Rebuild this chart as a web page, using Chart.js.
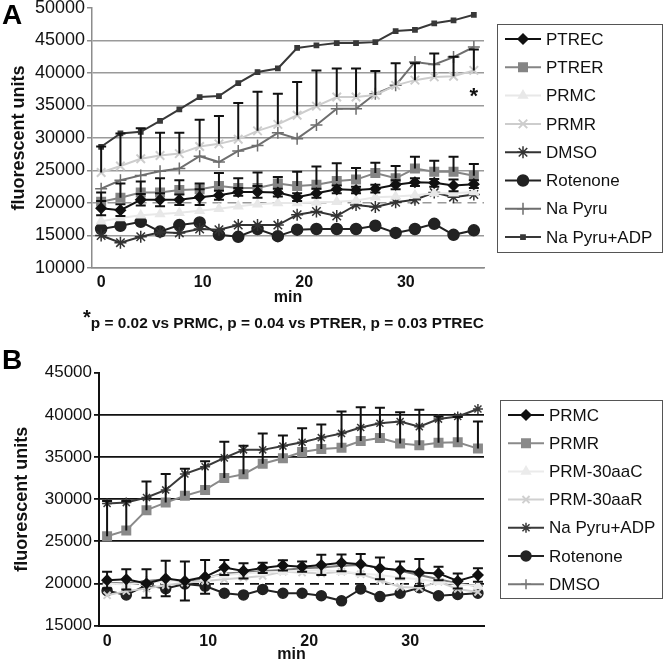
<!DOCTYPE html>
<html>
<head>
<meta charset="utf-8">
<script src="https://cdn.jsdelivr.net/npm/chart.js@4.4.0/dist/chart.umd.min.js"></script>
<style>
  body { margin: 0; background: #fff; width: 666px; height: 663px; position: relative; overflow: hidden; font-family: "Liberation Sans", Arial, sans-serif; }
  .wrap { position: absolute; left: 0; width: 666px; }
  #wrapA { top: 0; height: 312px; }
  #wrapB { top: 340px; height: 323px; }
  .letter { position: absolute; left: 2px; font: bold 28px "Liberation Sans", Arial, sans-serif; line-height: 1; color: #000; }
  #note { position: absolute; top: 311px; left: 83px; font: bold 15.4px "Liberation Sans", Arial, sans-serif; line-height: 1; color: #111; white-space: nowrap; }
  #note .st { font-size: 20px; position: relative; top: -4px; }
</style>
</head>
<body>
<div class="wrap" id="wrapA"><canvas id="chartA"></canvas></div>
<div class="wrap" id="wrapB"><canvas id="chartB"></canvas></div>
<div class="letter" style="top:1px">A</div>
<div class="letter" style="top:346px">B</div>
<div id="note"><span class="st">*</span>p = 0.02 vs PRMC, p = 0.04 vs PTRER, p = 0.03 PTREC</div>
<script>
// sampling times (min), same for both panels
const timesA = [0, 1.9, 3.9, 5.8, 7.7, 9.7, 11.6, 13.5, 15.4, 17.4, 19.3, 21.2, 23.2, 25.1, 27.0, 29.0, 30.9, 32.8, 34.7, 36.7];
const timesB = [0, 1.9, 3.9, 5.8, 7.7, 9.7, 11.6, 13.5, 15.4, 17.4, 19.3, 21.2, 23.2, 25.1, 27.0, 29.0, 30.9, 32.8, 34.7, 36.7];

// Panel A
const ptrecA = [19200, 18900, 20500, 20500, 20500, 20900, 21200, 21700, 21700, 21600, 20900, 21500, 22100, 22000, 22200, 22800, 23200, 23100, 22700, 22900];
const ptrecErrA = [1100, 900, 900, 1000, 800, 1200, 700, 600, 900, 600, 600, 700, 600, 500, 600, 700, 600, 600, 900, 600];
const ptrerA = [20200, 20800, 21600, 21600, 22000, 22100, 22600, 22300, 22300, 23000, 22600, 22800, 23400, 23600, 24600, 23800, 25300, 24800, 24800, 24200];
const ptrerErrA = [1400, 2200, 1700, 2200, 1500, 900, 2000, 1500, 2400, 1000, 2200, 2800, 2700, 1800, 1600, 1900, 1800, 1700, 2300, 1800];
const prmcA = [17200, 17700, 18100, 18300, 18500, 18800, 19100, 19500, 19800, 20000, 20000, 20100, 20200, 20400, 20900, 21000, 21200, 21500, 21500, 21700];
const prmrA = [24700, 25700, 26800, 27300, 27600, 28700, 29100, 29800, 31100, 32100, 33500, 34900, 36300, 36300, 36600, 38100, 38900, 39400, 39500, 40400];
const prmrErrA = [4000, 5000, 4700, 3500, 3200, 4100, 4300, 5600, 6000, 4700, 5100, 5500, 4400, 4400, 3700, 3400, 2600, 3600, 3000, 3200];
const dmsoA = [15000, 13900, 14800, 15500, 15400, 16000, 15900, 16600, 16600, 16600, 18200, 18700, 18000, 19700, 19400, 20100, 20500, 21600, 20900, 21300];
const rotenoneA = [16000, 16500, 17100, 15600, 16600, 17000, 15100, 14800, 16000, 14900, 15900, 16000, 16000, 16000, 16500, 15400, 16000, 16800, 15100, 15800];
const naPyruA = [22200, 23500, 24250, 24900, 25300, 27200, 26300, 28000, 28850, 30800, 29900, 32000, 34500, 34500, 36800, 38100, 41700, 41300, 42450, 44000];
const naPyruAdpA = [28650, 30700, 30950, 32650, 34400, 36300, 36450, 38450, 40150, 40700, 43850, 44250, 44600, 44600, 44750, 46450, 46650, 47650, 48100, 48950];

// Panel B
const prmcB = [20400, 20500, 20000, 20600, 20300, 20800, 21900, 21500, 21850, 22150, 22000, 22200, 22450, 22300, 21800, 21600, 21300, 21200, 20300, 21000];
const prmcErrB = [1000, 1200, 1700, 2100, 2300, 2000, 900, 900, 600, 600, 600, 1200, 1000, 1200, 1300, 1000, 1600, 800, 900, 800];
const prmrB = [25600, 26300, 28700, 29600, 30400, 31100, 32500, 32950, 34200, 34850, 35600, 35950, 36100, 36900, 37250, 36600, 36400, 36700, 36750, 36000];
const prmrErrB = [4200, 3500, 3400, 3400, 3200, 3400, 4300, 3400, 3600, 2700, 2800, 2900, 4300, 4000, 3600, 3700, 4200, 3100, 3000, 3200];
const prm30aaCB = [20000, 19900, 20100, 20300, 20500, 20700, 21000, 21200, 21300, 21400, 21500, 21600, 21400, 21200, 21000, 20700, 20500, 20200, 19900, 19700];
const prm30aaRB = [18600, 19100, 19400, 19800, 20100, 20300, 20500, 20700, 20900, 21400, 21300, 21200, 21400, 21100, 20400, 19600, 19500, 20200, 19350, 19000];
const naPyruAdpB = [29500, 29600, 30200, 31100, 33000, 33850, 34900, 35850, 35850, 36300, 36750, 37300, 37800, 38500, 39000, 39200, 38600, 39500, 39800, 40700];
const rotenoneB = [19150, 18650, 19800, 19400, 19950, 19700, 18850, 18650, 19300, 18850, 18850, 18550, 17950, 19350, 18450, 18850, 19500, 18550, 18700, 18850];
const dmsoB = [20100, 20000, 20300, 20500, 20300, 20600, 21200, 21300, 21500, 21600, 21800, 21900, 22100, 22200, 21900, 21500, 21000, 20500, 20000, 19700];

const FONT = '"Liberation Sans", Arial, sans-serif';

function pts(times, vals) {
    return vals.map((v, i) => ({ x: times[i], y: v }));
}

function series(label, times, vals, color, marker, size, extra) {
    return Object.assign({
        label: label,
        data: pts(times, vals),
        borderColor: color,
        backgroundColor: color,
        borderWidth: 2,
        pointStyle: marker,
        pointRadius: size,
        pointBackgroundColor: color,
        pointBorderColor: color,
        pointBorderWidth: 1.5
    }, extra || {});
}

// draws the upper (and optionally lower) error bars of a series
const errorBars = {
    id: 'errorBars',
    afterDatasetsDraw(chart) {
        const ctx = chart.ctx;
        const y = chart.scales.y;
        ctx.save();
        ctx.strokeStyle = '#111';
        ctx.lineWidth = 2;
        chart.data.datasets.forEach((ds, i) => {
            if (!ds.errPlus) return;
            const meta = chart.getDatasetMeta(i);
            ds.errPlus.forEach((e, k) => {
                const p = meta.data[k];
                const v = ds.data[k].y;
                const top = y.getPixelForValue(v + e);
                const bot = ds.errBoth ? y.getPixelForValue(v - e) : p.y;
                ctx.beginPath();
                ctx.moveTo(p.x, top);
                ctx.lineTo(p.x, bot);
                ctx.moveTo(p.x - 5, top);
                ctx.lineTo(p.x + 5, top);
                if (ds.errBoth) {
                    ctx.moveTo(p.x - 5, bot);
                    ctx.lineTo(p.x + 5, bot);
                }
                ctx.stroke();
            });
        });
        ctx.restore();
    }
};

function drawMarker(ctx, ds, x, y) {
    ctx.fillStyle = ds.pointBackgroundColor;
    ctx.strokeStyle = ds.pointBorderColor;
    ctx.lineWidth = ds.pointBorderWidth;
    if (Chart.helpers && Chart.helpers.drawPoint) {
        Chart.helpers.drawPoint(ctx, { pointStyle: ds.pointStyle, radius: ds.pointRadius, rotation: 0, borderWidth: ds.pointBorderWidth }, x, y);
    } else {
        ctx.beginPath();
        ctx.arc(x, y, ds.pointRadius, 0, Math.PI * 2);
        ctx.fill();
    }
}

// boxed legend on the right side
const boxLegend = {
    id: 'boxLegend',
    afterDraw(chart, args, opts) {
        const ctx = chart.ctx;
        ctx.save();
        ctx.strokeStyle = '#555';
        ctx.lineWidth = 1;
        ctx.strokeRect(opts.left + 0.5, opts.top + 0.5, opts.width, opts.height);
        ctx.font = '17px ' + FONT;
        ctx.textBaseline = 'middle';
        chart.data.datasets.forEach((ds, i) => {
            const yy = opts.firstY + i * opts.step;
            ctx.strokeStyle = ds.borderColor;
            ctx.lineWidth = ds.borderWidth;
            ctx.beginPath();
            ctx.moveTo(opts.left + 8, yy);
            ctx.lineTo(opts.left + 44, yy);
            ctx.stroke();
            drawMarker(ctx, ds, opts.left + 26, yy);
            ctx.fillStyle = '#111';
            ctx.fillText(ds.label, opts.left + 49, yy + 1);
        });
        ctx.restore();
    }
};

// asterisk next to the last PRMR point in panel A
const starNote = {
    id: 'starNote',
    afterDraw(chart, args, opts) {
        if (!opts.text) return;
        const ctx = chart.ctx;
        ctx.save();
        ctx.font = 'bold 22px ' + FONT;
        ctx.fillStyle = '#111';
        ctx.textAlign = 'center';
        ctx.textBaseline = 'middle';
        ctx.fillText(opts.text, chart.scales.x.getPixelForValue(opts.x), chart.scales.y.getPixelForValue(opts.y) + 4);
        ctx.restore();
    }
};

function makeOptions(cfg) {
    return {
        responsive: true,
        maintainAspectRatio: false,
        animation: false,
        events: [],
        layout: { padding: { top: cfg.top, right: cfg.right, left: 0, bottom: 0 } },
        plugins: {
            legend: { display: false },
            tooltip: { enabled: false },
            boxLegend: cfg.legend,
            starNote: cfg.star || {}
        },
        scales: {
            x: {
                type: 'linear',
                min: cfg.xMin,
                max: cfg.xMax,
                grid: { display: false, drawTicks: false, tickLength: 0 },
                border: { display: true, color: cfg.axisColor, width: cfg.axisWidth },
                ticks: { stepSize: 10, includeBounds: false, padding: cfg.xTickPad, color: '#111', font: { family: FONT, size: 16, weight: 'bold' } },
                title: { display: true, text: 'min', color: '#111', padding: { top: 0, bottom: cfg.minPad }, font: { family: FONT, size: 16, weight: 'bold', lineHeight: 1.1 } },
                afterFit(s) { s.height = cfg.xHeight; s.paddingLeft = 0; s.paddingRight = 0; }
            },
            y: {
                min: cfg.yMin,
                max: cfg.yMax,
                grid: {
                    color: c => (c.tick && c.tick.value === cfg.yMax) ? 'rgba(0,0,0,0)' : cfg.gridColor,
                    lineWidth: cfg.gridWidth,
                    tickColor: cfg.axisColor,
                    tickLength: 5,
                    drawTicks: true
                },
                border: {
                    display: true,
                    color: cfg.axisColor,
                    width: cfg.axisWidth,
                    dash: c => (c.tick && c.tick.value === 20000) ? [9, 6] : []
                },
                ticks: { stepSize: 5000, padding: 2, color: '#111', font: { family: FONT, size: cfg.yTickSize }, callback: v => String(v) },
                title: { display: true, text: 'fluorescent units', color: '#111', padding: { top: cfg.titlePad, bottom: 0 }, font: { family: FONT, size: 18, weight: 'bold', lineHeight: 1.1 } },
                afterFit(s) { s.width = cfg.yWidth; s.paddingTop = 0; s.paddingBottom = 0; }
            }
        }
    };
}

const datasetsA = [
    series('PTREC', timesA, ptrecA, '#111', 'rectRot', 5, { errPlus: ptrecErrA, errBoth: true }),
    series('PTRER', timesA, ptrerA, '#858585', 'rect', 6, { errPlus: ptrerErrA }),
    series('PRMC', timesA, prmcA, '#e8e8e8', 'triangle', 5),
    series('PRMR', timesA, prmrA, '#cdcdcd', 'crossRot', 6, { pointBorderWidth: 2, errPlus: prmrErrA }),
    series('DMSO', timesA, dmsoA, '#333', 'star', 6),
    series('Rotenone', timesA, rotenoneA, '#222', 'circle', 5.5),
    series('Na Pyru', timesA, naPyruA, '#6e6e6e', 'cross', 6),
    series('Na Pyru+ADP', timesA, naPyruAdpA, '#383838', 'rect', 3)
];

const datasetsB = [
    series('PRMC', timesB, prmcB, '#111', 'rectRot', 5, { errPlus: prmcErrB, errBoth: true }),
    series('PRMR', timesB, prmrB, '#8a8a8a', 'rect', 6, { errPlus: prmrErrB }),
    series('PRM-30aaC', timesB, prm30aaCB, '#ebebeb', 'triangle', 5),
    series('PRM-30aaR', timesB, prm30aaRB, '#d0d0d0', 'crossRot', 5, { pointBorderWidth: 2 }),
    series('Na Pyru+ADP', timesB, naPyruAdpB, '#3a3a3a', 'star', 5),
    series('Rotenone', timesB, rotenoneB, '#222', 'circle', 5),
    series('DMSO', timesB, dmsoB, '#777', 'cross', 5)
];

new Chart(document.getElementById('chartA'), {
    type: 'line',
    data: { datasets: datasetsA },
    options: makeOptions({
        top: 7.5, right: 182, xMin: -0.9, xMax: 37.7, yMin: 10000, yMax: 50000,
        xHeight: 44, yWidth: 92, xTickPad: 5, minPad: 6, titlePad: 9, yTickSize: 18,
        axisColor: '#8c8c8c', axisWidth: 1.5, gridColor: '#9a9a9a', gridWidth: 1.5,
        legend: { left: 497, top: 24, width: 165, height: 228, firstY: 39, step: 28.3 },
        star: { text: '*', x: 36.7, y: 37000 }
    }),
    plugins: [errorBars, boxLegend, starNote]
});

new Chart(document.getElementById('chartB'), {
    type: 'line',
    data: { datasets: datasetsB },
    options: makeOptions({
        top: 32.7, right: 182, xMin: -0.8, xMax: 37.3, yMin: 15000, yMax: 45000,
        xHeight: 37.3, yWidth: 99, xTickPad: 6, minPad: 0, titlePad: 12, yTickSize: 17,
        axisColor: '#111', axisWidth: 2, gridColor: '#111', gridWidth: 1.8,
        legend: { left: 500, top: 60, width: 162, height: 198, firstY: 75, step: 28.2 }
    }),
    plugins: [errorBars, boxLegend, starNote]
});
</script>
</body>
</html>
